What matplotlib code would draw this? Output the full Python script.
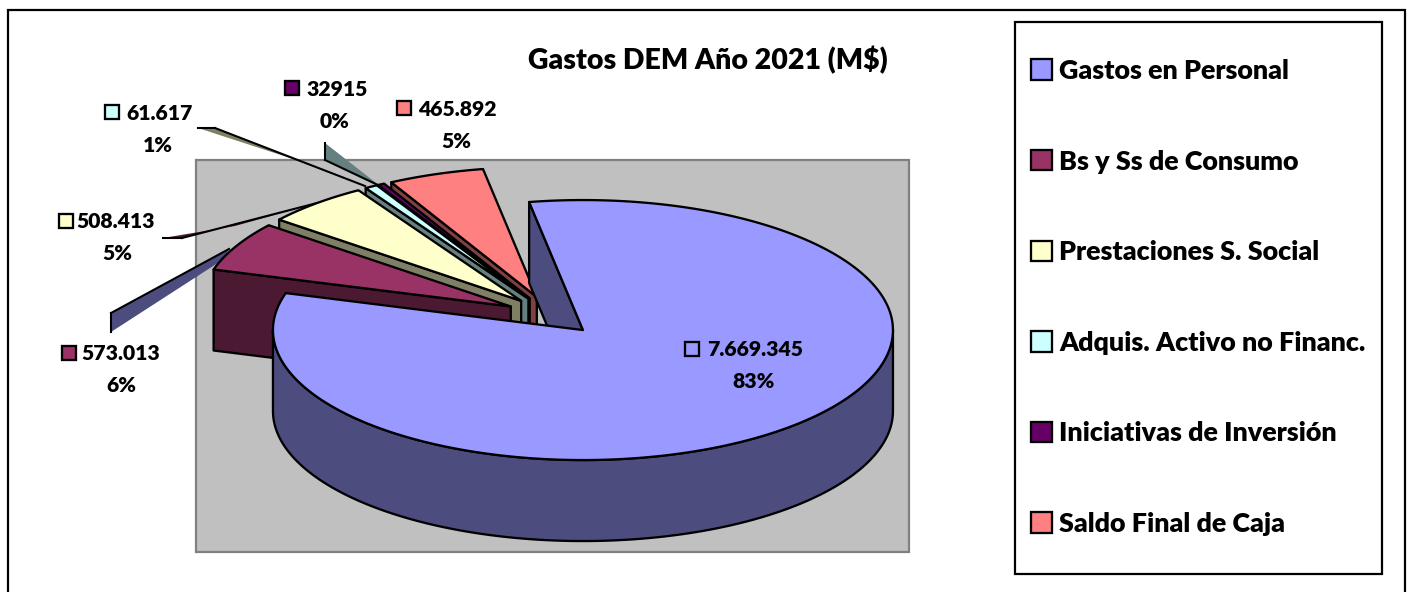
import numpy as np
import matplotlib
matplotlib.use("Agg")
import matplotlib.pyplot as plt
from matplotlib.patches import Polygon, Rectangle, Patch

plt.rcParams['font.family'] = ['Lato', 'DejaVu Sans']

title = "Gastos DEM Año 2021 (M$)"
categories = ["Gastos en Personal", "Bs y Ss de Consumo", "Prestaciones S. Social",
              "Adquis. Activo no Financ.", "Iniciativas de Inversión", "Saldo Final de Caja"]
values = [7669345, 573013, 508413, 61617, 32915, 465892]
value_labels = ["7.669.345", "573.013", "508.413", "61.617", "32915", "465.892"]
percent_labels = ["83%", "6%", "5%", "1%", "0%", "5%"]
top_colors = ["#9999FF", "#993366", "#FFFFCC", "#CCFFFF", "#660066", "#FF8080"]
wall_colors = ["#4C4C7F", "#4C1933", "#7F7F66", "#667F7F", "#330033", "#7F4040"]

# layout (pixels)
W, H = 1411, 592
CX, CY, RX, RY, DEPTH, EXPLODE = 552.0, 315.5, 310.0, 130.0, 81.0, 0.15
START = -10.0
FS = 15.2
WEIGHT = "heavy"
LW = 1.65

fig = plt.figure(figsize=(W / 100, H / 100), dpi=100)
ax = fig.add_axes([0, 0, 1, 1])
ax.set_xlim(0, W)
ax.set_ylim(H, 0)
ax.axis("off")

ax.add_patch(Rectangle((7.5, 9.5), 1397, 600, fc="white", ec="black", lw=1.6, zorder=0, clip_on=True))
ax.add_patch(Rectangle((195.5, 159.5), 713, 392, fc="#C0C0C0", ec="#808080", lw=1.6, zorder=1))
ax.add_patch(Rectangle((1015, 21.5), 367, 552, fc="white", ec="black", lw=1.6, zorder=1))

# leader lines of the labels, drawn as flat slivers behind the slices
leaders = [
    ([(111, 313), (111, 332), (224, 259), (229, 249)], wall_colors[0], [(0, 1), (3, 0)]),
    ([(163, 238), (182, 238), (317, 203), (235, 226)], wall_colors[1], [(0, 1), (1, 2)]),
    ([(198, 128), (215, 128), (365, 186), (290, 158)], wall_colors[2], [(0, 1), (1, 2)]),
    ([(325, 143), (325, 160), (380, 186)], wall_colors[3], [(0, 1), (1, 2)]),
]
for pts, col, edges in leaders:
    ax.add_patch(Polygon(pts, closed=True, fc=col, ec="none", zorder=2))
    for a, b in edges:
        ax.plot([pts[a][0], pts[b][0]], [pts[a][1], pts[b][1]], color="black", lw=LW * 0.9, zorder=2.1)

total = sum(values)
extents = [v / total * 360 for v in values]
starts = START + np.concatenate([[0], np.cumsum(extents)[:-1]])


def pos(theta, cx, cy):
    t = np.radians(theta)
    return cx + RX * np.sin(t), cy - RY * np.cos(t)


def draw_slice(i, z):
    a0, ext = starts[i], extents[i]
    a1 = a0 + ext
    mid = np.radians(a0 + ext / 2)
    ax0 = CX + EXPLODE * RX * np.sin(mid)
    ay0 = CY - EXPLODE * RY * np.cos(mid)
    sx, sy = pos(a0, ax0, ay0)
    # flat wall under the leading edge
    ax.add_patch(Polygon([(sx, sy), (ax0, ay0), (ax0, ay0 + DEPTH), (sx, sy + DEPTH)],
                         closed=True, fc=wall_colors[i], ec="black", lw=LW, joinstyle="round", zorder=z))
    # curved outer wall on the part of the rim facing the viewer
    lo, hi = max(a0, 90), min(a1, 270)
    if hi > lo:
        th = np.linspace(lo, hi, 200)
        x, y = pos(th, ax0, ay0)
        ax.add_patch(Polygon(np.r_[np.c_[x, y], np.c_[x[::-1], y[::-1] + DEPTH]],
                             closed=True, fc=wall_colors[i], ec="black", lw=LW, joinstyle="round", zorder=z))
    # top face
    th = np.linspace(a0, a1, 240)
    x, y = pos(th, ax0, ay0)
    ax.add_patch(Polygon(np.r_[[(ax0, ay0)], np.c_[x, y]], closed=True, fc=top_colors[i],
                         ec="black", lw=LW, joinstyle="round", zorder=z))


for order, i in enumerate([5, 4, 3, 2, 1, 0]):
    draw_slice(i, 3 + order)

ax.text(708, 60, title, ha="center", va="center", fontsize=20.5, fontweight=WEIGHT, color="black", zorder=20)

# data labels: swatch x, text left x, value y, percent centre x, percent y
label_pos = [(692, 707, 350, 754, 382), (69, 81, 354, 121, 386), (66, 76, 222, 117, 254),
             (112, 126, 113, 158, 145), (292, 306, 89, 335, 122), (404, 418, 109, 456, 142)]
for i, (sx, tx, ty, px, py) in enumerate(label_pos):
    ax.add_patch(Rectangle((sx - 7, ty - 8), 14, 14, fc=top_colors[i], ec="black", lw=LW, zorder=20))
    ax.text(tx, ty, value_labels[i], ha="left", va="center", fontsize=FS, fontweight=WEIGHT, zorder=20)
    ax.text(px, py, percent_labels[i], ha="center", va="center", fontsize=FS, fontweight=WEIGHT, zorder=20)

LEG_FS = 19.4
px = LEG_FS * 100 / 72
handles = [Patch(fc=c, ec="black", lw=LW) for c in top_colors]
leg = ax.legend(handles, categories, loc="upper left", bbox_to_anchor=(1031, 59), bbox_transform=ax.transData,
                frameon=False, borderpad=0, borderaxespad=0,
                prop={"weight": WEIGHT, "size": LEG_FS}, handlelength=21 / px, handleheight=21 / px,
                handletextpad=7 / px, labelspacing=(90.6 - 24.0) / px)
leg.set_zorder(20)

fig.savefig("out.png", dpi=100)
